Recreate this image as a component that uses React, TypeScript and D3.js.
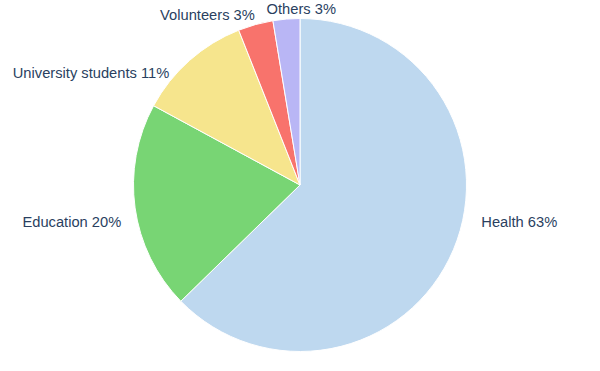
import React from 'react';
import * as d3 from 'd3';

// Chart data
const categories = ['Health', 'Education', 'University students', 'Volunteers', 'Others'];
const values = [62.7, 20.2, 11.1, 3.4, 2.6];
const colors = ['#bed8ef', '#78d574', '#f6e58d', '#f8736c', '#b9b6f5'];

// label layout tweaks (px) relative to the default outside position
const labelNudge: [number, number][] = [[15, -33], [0, 12], [-11, 23], [3, 4], [16, 4]];

const width = 600;
const height = 371;
const cx = 300;
const cy = 185;
const radius = 166.5;

function App() {
    const pie = d3.pie<number>()
        .sort(null)
        .value(d => d);
    const arcs = pie(values);

    const arc = d3.arc<d3.PieArcDatum<number>>()
        .innerRadius(0)
        .outerRadius(radius);

    const labelRadius = radius + 14;
    const total = d3.sum(values);

    return (
        <svg width={width} height={height} style={{ position: 'absolute', left: 0, top: 0 }}>
            <g transform={`translate(${cx},${cy})`}>
                {arcs.map((a, i) => (
                    <path key={categories[i]} d={arc(a) || ''} fill={colors[i]} stroke="#fff" strokeWidth={1} />
                ))}
                {arcs.map((a, i) => {
                    const mid = (a.startAngle + a.endAngle) / 2;
                    const s = Math.sin(mid);
                    const x = labelRadius * s + labelNudge[i][0];
                    const y = -labelRadius * Math.cos(mid) + labelNudge[i][1];
                    const anchor = Math.abs(s) < 0.15 ? 'middle' : s > 0 ? 'start' : 'end';
                    const pct = Math.round((values[i] / total) * 100);
                    return (
                        <text key={'l' + i} x={x} y={y} textAnchor={anchor} dominantBaseline="central"
                            fontFamily="'Liberation Sans', Arial, sans-serif" fontSize={14.7} fill="#2a3f5f">
                            {`${categories[i]} ${pct}%`}
                        </text>
                    );
                })}
            </g>
        </svg>
    );
}

export default App;
